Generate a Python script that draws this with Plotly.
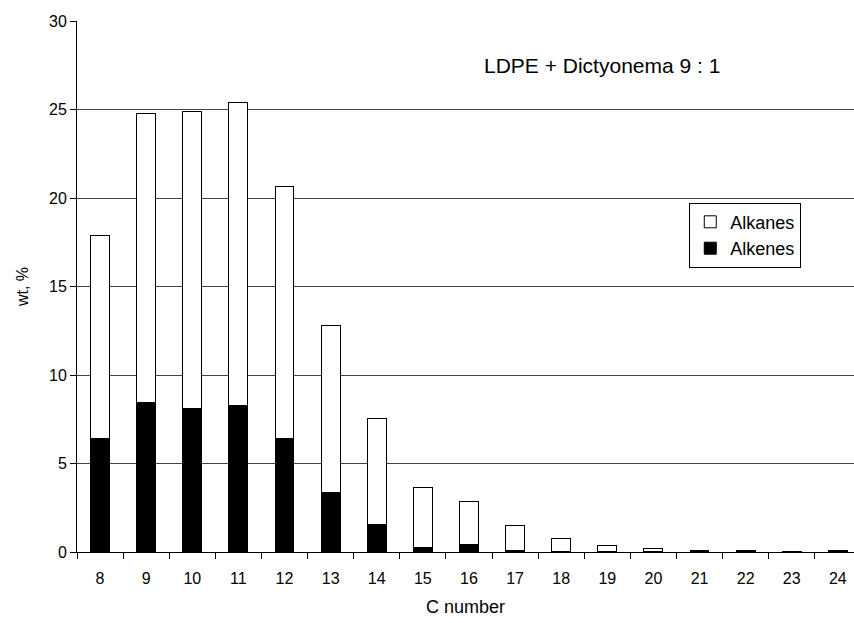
import plotly.graph_objects as go

c_numbers = ["8", "9", "10", "11", "12", "13", "14", "15", "16", "17", "18", "19", "20", "21", "22", "23", "24"]
totals = [17.87, 24.75, 24.86, 25.37, 20.64, 12.77, 7.57, 3.63, 2.84, 1.50, 0.75, 0.35, 0.20, 0.10, 0.10, 0.05, 0.10]
alkenes = [6.44, 8.47, 8.08, 8.30, 6.42, 3.39, 1.53, 0.27, 0.40, 0.08, 0.03, 0.02, 0.02, 0.03, 0.03, 0.02, 0.03]
alkanes = [round(t - a, 3) for t, a in zip(totals, alkenes)]

FONT = "Liberation Sans, Arial, sans-serif"

fig = go.Figure()
fig.add_trace(go.Bar(x=c_numbers, y=alkenes, name="Alkenes",
                     marker=dict(color="black", line=dict(color="black", width=1))))
fig.add_trace(go.Bar(x=c_numbers, y=alkanes, name="Alkanes",
                     marker=dict(color="white", line=dict(color="black", width=1))))

fig.update_layout(
    barmode="stack",
    bargap=0.59,
    width=854, height=623,
    margin=dict(l=77, r=0, t=21, b=71),
    plot_bgcolor="white", paper_bgcolor="white",
    font=dict(family=FONT, size=16, color="black"),
    legend=dict(x=0.788, y=0.658, xanchor="left", yanchor="top",
                traceorder="reversed", bordercolor="black", borderwidth=1,
                bgcolor="white", font=dict(size=18), itemwidth=30,
                tracegroupgap=0),
    showlegend=True,
)
fig.update_xaxes(type="category", range=[-0.5, 16.35], showline=True, linecolor="black",
                 linewidth=1, ticks="outside", tickson="boundaries", ticklen=6,
                 tickcolor="black", showgrid=False, ticklabelstandoff=12,
                 tickfont=dict(size=16),
                 title=dict(text="C number", standoff=14, font=dict(size=18)))
fig.update_yaxes(range=[0, 30], dtick=5, showline=True, linecolor="black", linewidth=1,
                 ticks="outside", ticklen=6, tickcolor="black", showgrid=True,
                 gridcolor="#444444", gridwidth=1, zeroline=False,
                 tickfont=dict(size=16),
                 title=dict(text="wt, %", standoff=16, font=dict(size=16)))
fig.add_annotation(text="LDPE + Dictyonema 9 : 1", xref="paper", yref="y",
                   x=0.676, y=27.5, showarrow=False, font=dict(size=21),
                   xanchor="center", yanchor="middle")
fig.write_html("out.html")
